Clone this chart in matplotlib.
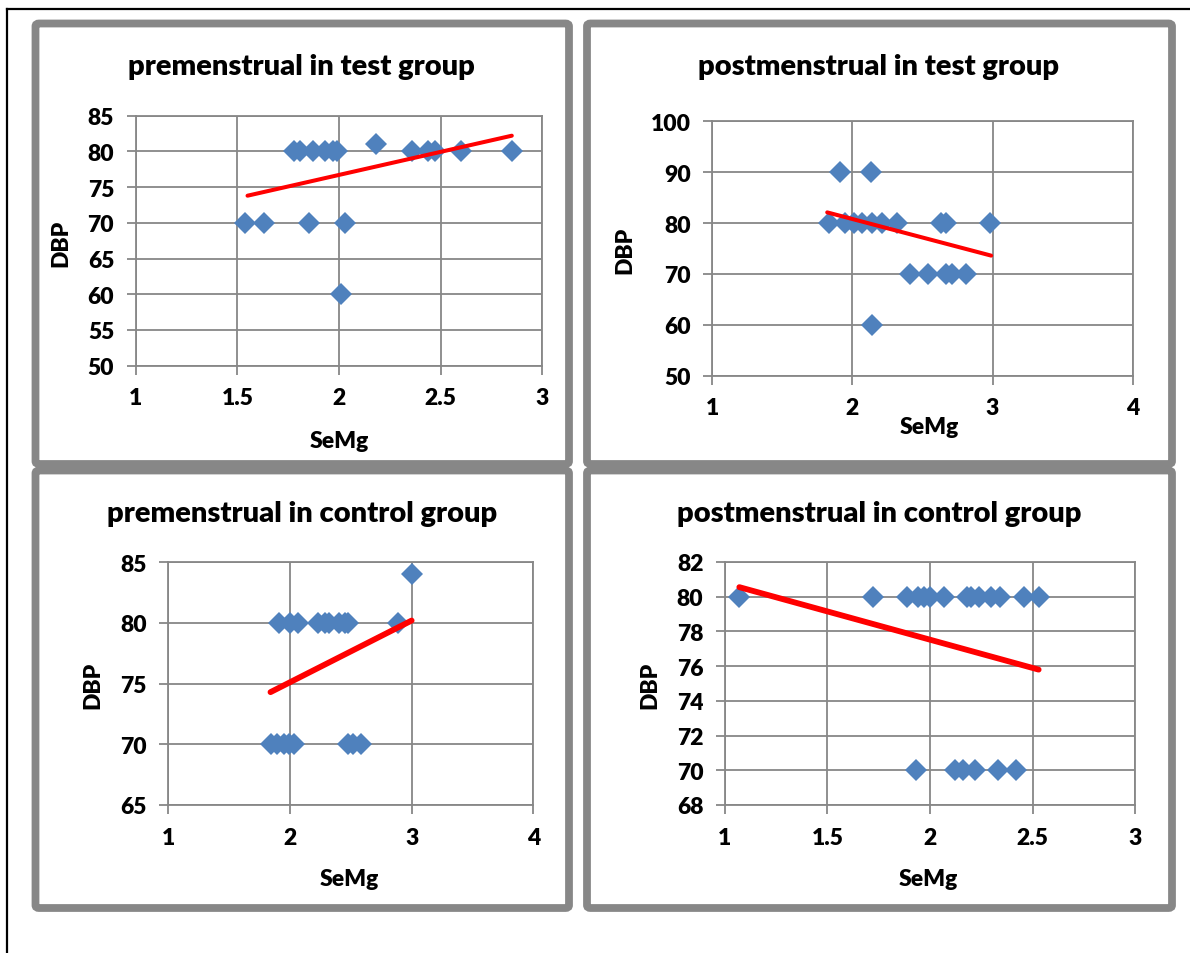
import matplotlib
matplotlib.use("Agg")
import matplotlib.pyplot as plt
from matplotlib.patches import FancyBboxPatch
from matplotlib.lines import Line2D

# ---------------- data ----------------
titles = ["premenstrual in test group", "postmenstrual in test group",
          "premenstrual in control group", "postmenstrual in control group"]
x_label = "SeMg"
y_label = "DBP"

# panel 1: premenstrual in test group
p1_x = [1.78, 1.81, 1.87, 1.93, 1.97, 1.99, 2.18, 2.36, 2.44, 2.47, 2.60, 2.85,
        1.54, 1.63, 1.85, 2.03, 2.01]
p1_y = [80, 80, 80, 80, 80, 80, 81, 80, 80, 80, 80, 80,
        70, 70, 70, 70, 60]
p1_trend_x = [1.55, 2.85]
p1_trend_y = [73.8, 82.2]
p1_xticks = [1, 1.5, 2, 2.5, 3]
p1_yticks = [50, 55, 60, 65, 70, 75, 80, 85]

# panel 2: postmenstrual in test group
p2_x = [1.91, 2.13,
        1.83, 1.95, 2.01, 2.07, 2.14, 2.21, 2.32, 2.63, 2.67, 2.98,
        2.41, 2.54, 2.67, 2.71, 2.81,
        2.14]
p2_y = [90, 90,
        80, 80, 80, 80, 80, 80, 80, 80, 80, 80,
        70, 70, 70, 70, 70,
        60]
p2_trend_x = [1.82, 2.99]
p2_trend_y = [82.1, 73.6]
p2_xticks = [1, 2, 3, 4]
p2_yticks = [50, 60, 70, 80, 90, 100]

# panel 3: premenstrual in control group
p3_x = [1.91, 2.00, 2.07, 2.23, 2.29, 2.32, 2.40, 2.45, 2.48, 2.89,
        3.00,
        1.84, 1.89, 1.95, 1.99, 2.03, 2.48, 2.52, 2.58]
p3_y = [80, 80, 80, 80, 80, 80, 80, 80, 80, 80,
        84,
        70, 70, 70, 70, 70, 70, 70, 70]
p3_trend_x = [1.84, 3.00]
p3_trend_y = [74.3, 80.2]
p3_xticks = [1, 2, 3, 4]
p3_yticks = [65, 70, 75, 80, 85]

# panel 4: postmenstrual in control group
p4_x = [1.07, 1.72, 1.89, 1.94, 1.97, 2.00, 2.07, 2.18, 2.20, 2.24, 2.30, 2.34,
        2.46, 2.53,
        1.93, 2.12, 2.16, 2.22, 2.33, 2.42]
p4_y = [80, 80, 80, 80, 80, 80, 80, 80, 80, 80, 80, 80,
        80, 80,
        70, 70, 70, 70, 70, 70]
p4_trend_x = [1.07, 2.53]
p4_trend_y = [80.55, 75.8]
p4_xticks = [1, 1.5, 2, 2.5, 3]
p4_yticks = [68, 70, 72, 74, 76, 78, 80, 82]

# ---------------- layout ----------------
W, H = 1190, 954
fig = plt.figure(figsize=(W / 100, H / 100), dpi=100)
FONT = ["Lato", "DejaVu Sans"]
WEIGHT = "heavy"
GRAY = "#878787"
BLUE = "#4F81BD"


def fx(px):
    return px / W


def fy(py):
    return 1 - py / H


# outer black border (extends beyond right and bottom edges)
fig.add_artist(Line2D([fx(7), fx(7)], [fy(10), fy(960)], color="black", lw=1.6,
                      transform=fig.transFigure))
fig.add_artist(Line2D([fx(7), fx(1200)], [fy(10), fy(10)], color="black", lw=1.6,
                      transform=fig.transFigure))

# panel frames (pixel boxes: left, top, right, bottom)
frames = [(35.5, 24.5, 569, 465), (587, 24.5, 1172, 465),
          (35.5, 471.5, 569, 909), (587, 471.5, 1172, 909)]
for (l, t, r, b) in frames:
    patch = FancyBboxPatch((fx(l), fy(b)), fx(r) - fx(l), fy(t) - fy(b),
                           boxstyle="round,pad=0,rounding_size=0.003",
                           transform=fig.transFigure, fill=False,
                           edgecolor=GRAY, lw=5.6, zorder=0)
    fig.add_artist(patch)

# plot areas (pixel: left, top, right, bottom)
areas = [(135.7, 116.7, 542.3, 366.7), (712.3, 122.3, 1132.7, 376.7),
         (168.3, 563.3, 533.3, 806.0), (725.0, 563.0, 1135.0, 806.0)]
panels = [
    (p1_x, p1_y, p1_trend_x, p1_trend_y, p1_xticks, p1_yticks),
    (p2_x, p2_y, p2_trend_x, p2_trend_y, p2_xticks, p2_yticks),
    (p3_x, p3_y, p3_trend_x, p3_trend_y, p3_xticks, p3_yticks),
    (p4_x, p4_y, p4_trend_x, p4_trend_y, p4_xticks, p4_yticks),
]
trend_lw = [2.9, 2.9, 4.2, 4.2]
title_pos = [(301, 67), (879, 67), (302, 514), (879, 514)]
xlab_pos = [(339, 441), (929, 428), (349, 880), (928, 880)]
ylab_pos = [(61, 243), (625, 250), (93, 685), (650, 685)]

for i, ((l, t, r, b), (xs, ys, tx, ty, xt, yt)) in enumerate(zip(areas, panels)):
    ax = fig.add_axes([fx(l), fy(b), fx(r) - fx(l), fy(t) - fy(b)])
    ax.set_xlim(xt[0], xt[-1])
    ax.set_ylim(yt[0], yt[-1])
    ax.set_xticks(xt)
    ax.set_yticks(yt)
    ax.set_xticklabels([f"{v:g}" for v in xt])
    ax.set_yticklabels([f"{v:g}" for v in yt])
    ax.grid(True, color=GRAY, lw=1.3, zorder=0)
    ax.set_axisbelow(True)
    for s in ax.spines.values():
        s.set_color(GRAY)
        s.set_linewidth(1.3)
    ax.tick_params(axis="both", direction="out", length=6.5, width=1.3,
                   color=GRAY, pad=9, labelsize=16.5)
    for lab in ax.get_xticklabels() + ax.get_yticklabels():
        lab.set_fontfamily(FONT)
        lab.set_fontweight(WEIGHT)
    ax.plot(xs, ys, linestyle="none", marker="D", ms=11, color=BLUE,
            markeredgewidth=0, zorder=3, clip_on=False)
    ax.plot(tx, ty, color="#FF0000", lw=trend_lw[i], solid_capstyle="round",
            zorder=4, clip_on=False)

    fig.text(fx(title_pos[i][0]), fy(title_pos[i][1]), titles[i], ha="center",
             va="center", fontsize=21, fontweight=WEIGHT, family=FONT)
    fig.text(fx(xlab_pos[i][0]), fy(xlab_pos[i][1]), x_label, ha="center",
             va="center", fontsize=16.5, fontweight=WEIGHT, family=FONT)
    fig.text(fx(ylab_pos[i][0]), fy(ylab_pos[i][1]), y_label, ha="center",
             va="center", fontsize=16.5, fontweight=WEIGHT, family=FONT,
             rotation=90)

fig.savefig("out.png", dpi=100)
